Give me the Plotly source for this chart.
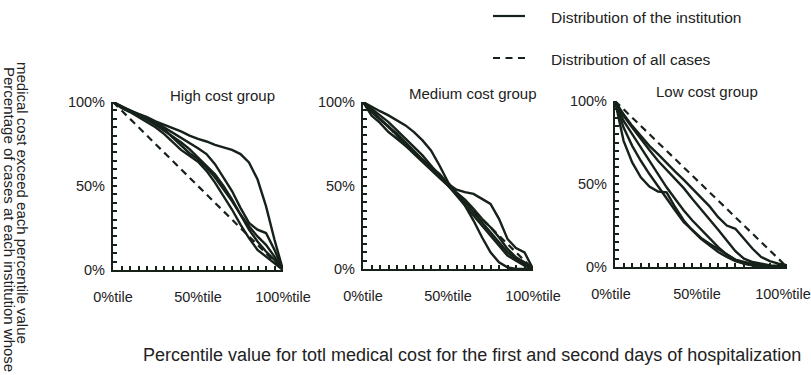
import plotly.graph_objects as go

# Percentile of the overall cost distribution (x) for every institution curve
percentile = [0, 5, 10, 15, 20, 25, 30, 35, 40, 45, 50,
              55, 60, 65, 70, 75, 80, 85, 90, 95, 100]

# Share of an institution's cases whose cost exceeds each percentile (%)
high_cost_curves = [
    [100, 97.5, 95, 93, 91, 88.5, 86.5, 84.5, 82.5, 80, 78, 76.5, 74.5, 73, 71.5, 69, 64, 54, 38, 18, 0],
    [100, 97, 95, 92.5, 90, 88, 85, 82, 79, 76, 72.5, 69, 63, 55, 47, 37, 28, 24, 22, 12, 0],
    [100, 97, 94.5, 92, 90, 87.5, 84, 79, 74, 69.5, 66, 61, 55, 48, 41, 33, 26, 20, 15, 8, 0],
    [100, 96.5, 94, 91, 88, 85, 81, 76, 71.5, 68, 64.5, 59, 52, 44, 36, 27, 19, 12, 8, 4, 0],
    [100, 97, 94.5, 92, 89.5, 86.5, 83, 80, 76, 72, 67, 62, 57, 50, 42, 33, 24, 17, 11, 6, 0],
]
medium_cost_curves = [
    [100, 97, 94.5, 92, 89, 86, 82, 77, 71, 62, 52, 45, 38, 29, 19, 10, 4, 1, 0, 0, 0],
    [100, 92, 87.5, 82, 78, 73.5, 69.5, 65.5, 61.5, 57, 51, 47.5, 46, 45, 42, 39, 30, 18, 12.5, 10, 0],
    [100, 96, 92, 88, 83, 78, 73, 68, 62, 56, 50, 45, 40, 34, 28, 22, 16, 10, 6, 3, 0],
    [100, 95, 90, 85, 81, 76, 71, 65.5, 60, 55, 50, 44, 38, 32, 26, 20, 14, 8, 5, 2, 0],
    [100, 94, 89.5, 85.5, 80, 74, 69, 64, 59, 54.5, 50, 45.5, 41.5, 36, 30, 25, 19, 12, 7, 4, 0],
]
low_cost_curves = [
    [100, 92, 85, 79, 73, 68, 62.5, 57.5, 52.5, 47, 42, 36.5, 30, 25, 23, 17, 11, 6, 3.5, 2, 1],
    [100, 91, 84, 77, 70.5, 64, 58.5, 53.5, 47.5, 41, 35, 28.5, 22.5, 16, 9.5, 5, 3, 2, 1, 0.8, 0.5],
    [100, 88, 80, 72, 64, 56, 48, 41, 34, 28, 22.5, 17, 12, 7.5, 4, 2, 1, 0.5, 0.3, 0.2, 0],
    [100, 84, 73, 64, 56, 48.5, 41, 34, 27, 22, 17.5, 14, 11, 7.5, 4.5, 3, 2, 1, 0.5, 0.3, 0],
    [100, 76, 63, 54, 48.5, 45.5, 45, 36, 28, 22, 17, 13, 9, 6, 3.5, 2, 1, 0.5, 0.3, 0.2, 0],
]

# Reference distribution of all cases (straight diagonal)
all_cases_percentile = [0, 100]
all_cases_share = [100, 0]

group_titles = ["High cost group", "Medium cost group", "Low cost group"]
x_tick_labels = {0: "0%tile", 50: "50%tile", 100: "100%tile"}
y_tick_labels = {0: "0%", 50: "50%", 100: "100%"}
tick_positions = [0, 5, 10, 15, 20, 25, 30, 35, 40, 45, 50,
                  55, 60, 65, 70, 75, 80, 85, 90, 95, 100]

W, H = 811, 375
INK = "#16211a"
TEXT = "#222222"
FONT = "Liberation Sans, Arial, sans-serif"

# panel boxes in pixels: (left, right, top, bottom)
panels = [
    (113, 283, 102, 270),
    (363, 533, 102, 269),
    (615, 787, 101, 267),
]
title_pos = [(222, 95), (473, 93), (707, 92)]
label_shift = [0, 0, -4]


def px_x(v):
    return v / W


def px_y(v):
    return 1 - v / H


fig = go.Figure()

for i, curves in enumerate([high_cost_curves, medium_cost_curves, low_cost_curves]):
    suffix = "" if i == 0 else str(i + 1)
    xa, ya = "x" + suffix, "y" + suffix
    fig.add_trace(go.Scatter(
        x=all_cases_percentile, y=all_cases_share, mode="lines",
        line=dict(color=INK, width=2.2, dash="7px,5px"),
        xaxis=xa, yaxis=ya, showlegend=False, hoverinfo="skip"))
    for c in curves:
        fig.add_trace(go.Scatter(
            x=percentile, y=c, mode="lines",
            line=dict(color=INK, width=2.4),
            xaxis=xa, yaxis=ya, showlegend=False, hoverinfo="skip"))

    left, right, top, bottom = panels[i]
    axis_base = dict(
        range=[0, 100], showline=True, linecolor=INK, linewidth=2.2,
        ticks="inside", ticklen=4, tickwidth=1.6, tickcolor=INK,
        tickmode="array", tickvals=tick_positions,
        showgrid=False, zeroline=False, fixedrange=True, automargin=False,
        ticklabeloverflow="allow",
        tickfont=dict(family=FONT, size=14.5, color=TEXT),
    )
    fig.layout["xaxis" + suffix] = dict(
        axis_base, domain=[px_x(left), px_x(right)], anchor=ya,
        ticktext=[x_tick_labels.get(t, "") for t in tick_positions],
        ticklabelstandoff=12, ticklabelshift=label_shift[i])
    fig.layout["yaxis" + suffix] = dict(
        axis_base, domain=[px_y(bottom), px_y(top)], anchor=xa,
        ticktext=[y_tick_labels.get(t, "") for t in tick_positions],
        ticklabelstandoff=3)

annotations = []
for (tx, ty), t in zip(title_pos, group_titles):
    annotations.append(dict(
        x=px_x(tx), y=px_y(ty), xref="paper", yref="paper",
        text=t, showarrow=False, xanchor="center", yanchor="middle",
        font=dict(family=FONT, size=15, color=TEXT)))

# shared axis titles
annotations.append(dict(
    x=px_x(472), y=px_y(355), xref="paper", yref="paper",
    text="Percentile value for totl medical cost for the first and second days of hospitalization",
    showarrow=False, xanchor="center", yanchor="middle",
    font=dict(family=FONT, size=18, color=TEXT)))
annotations.append(dict(
    x=px_x(10), y=px_y(219), xref="paper", yref="paper",
    text="Percentage of cases at each institution whose",
    textangle=90, showarrow=False, xanchor="center", yanchor="middle",
    font=dict(family=FONT, size=15, color=TEXT)))
annotations.append(dict(
    x=px_x(23), y=px_y(203), xref="paper", yref="paper",
    text="medical cost exceed each percentile value",
    textangle=90, showarrow=False, xanchor="center", yanchor="middle",
    font=dict(family=FONT, size=15, color=TEXT)))

# legend keys
legend_rows = [("Distribution of the institution", "solid", 16),
               ("Distribution of all cases", "7px,5.5px", 58)]
shapes = []
for label, dash, yy in legend_rows:
    shapes.append(dict(type="line", xref="paper", yref="paper",
                       x0=px_x(493), x1=px_x(525), y0=px_y(yy), y1=px_y(yy),
                       line=dict(color=INK, width=2.2, dash=dash)))
    annotations.append(dict(
        x=px_x(549), y=px_y(yy + 1), xref="paper", yref="paper",
        text=label, showarrow=False, xanchor="left", yanchor="middle",
        font=dict(family=FONT, size=15.5, color=TEXT)))

fig.update_layout(
    width=W, height=H,
    margin=dict(l=0, r=0, t=0, b=0, pad=0, autoexpand=False),
    paper_bgcolor="white", plot_bgcolor="white",
    annotations=annotations, shapes=shapes,
    showlegend=False,
)

fig.write_html("out.html")
